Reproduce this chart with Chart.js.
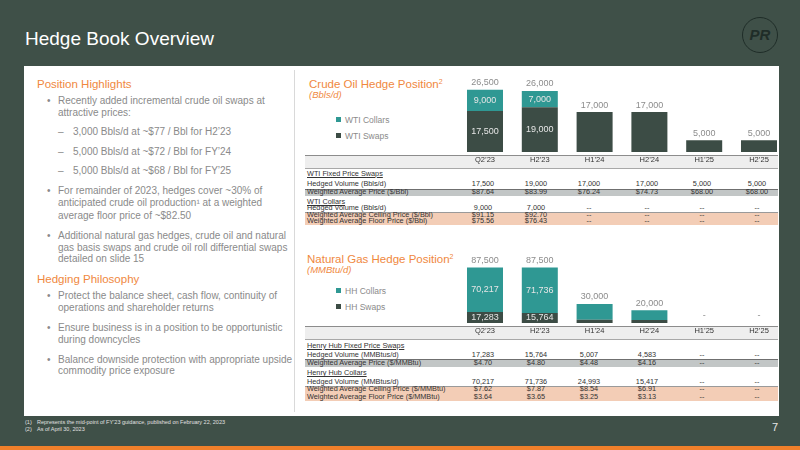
<!DOCTYPE html>
<html>
<head>
<meta charset="utf-8">
<script src="https://cdn.jsdelivr.net/npm/chart.js@4.4.0/dist/chart.umd.min.js"></script>
<style>
  body { margin: 0; width: 800px; height: 450px; background: #3f5048; position: relative; overflow: hidden;
         font-family: "Liberation Sans", Arial, sans-serif; }
  .abs { position: absolute; white-space: nowrap; }
  .title { left: 25px; top: 27px; font-size: 19px; color: #ffffff; line-height: 24px; }
  .logo { left: 742px; top: 17px; width: 34px; height: 34px; border: 1.6px solid #1f2d28; border-radius: 50%;
          color: #1f2d28; font-size: 15px; font-weight: bold; font-style: italic; text-align: center; line-height: 34px; }
  .panel { left: 24px; top: 66px; width: 755px; height: 350px; background: #ffffff; }
  .divider { left: 294px; top: 70px; width: 1px; height: 342px; background: #d9d9d9; }
  .head { font-size: 11.5px; color: #f0883e; line-height: 14px; }
  .body { font-size: 10px; color: #8a8a8a; }
  .body .dot { position: absolute; left: -11px; }
  .sub .dash { position: absolute; left: -15px; }
  .ctitle { font-size: 11.5px; color: #f0883e; line-height: 14px; }
  .ctitle sup { font-size: 7px; vertical-align: 4px; }
  .cunit { font-size: 9.5px; color: #f0883e; font-style: italic; line-height: 12px; }
  .leg { font-size: 8.5px; color: #8a8a8a; line-height: 10px; }
  .leg i { display: inline-block; width: 5px; height: 5px; margin-right: 4px; vertical-align: 1px; }
  .band { left: 305px; width: 473px; }
  .hdr { background: #eeeeee; border-top: 1px solid #8c8c8c; border-bottom: 1px solid #a8a8a8; box-sizing: border-box; }
  .grey { background: #c2c6c6; border-top: 1px solid #6f6f6f; box-sizing: border-box; }
  .peach { background: #f3cdb6; border-top: 1px solid #9a9a9a; box-sizing: border-box; }
  .cell { font-size: 7.3px; color: #333333; line-height: 10px; height: 10px; }
  .cell.u { text-decoration: underline; }
  .cell.v { width: 60px; text-align: center; }
  .foot { font-size: 5.5px; color: #e0e0e0; line-height: 7px; }
  canvas { position: absolute; }
</style>
</head>
<body>
<div class="abs title">Hedge Book Overview</div>
<div class="abs logo">PR</div>
<div class="abs panel"></div>
<div class="abs divider"></div>
<div id="left"></div>
<div id="right"></div>
<canvas id="oilChart" width="490" height="100" style="left:300px;top:70px"></canvas>
<canvas id="gasChart" width="490" height="91" style="left:300px;top:250px"></canvas>
<div class="abs foot" style="left:25px;top:419px">(1)</div>
<div class="abs foot" style="left:37px;top:419px">Represents the mid-point of FY’23 guidance, published on February 22, 2023</div>
<div class="abs foot" style="left:25px;top:426px">(2)</div>
<div class="abs foot" style="left:37px;top:426px">As of April 30, 2023</div>
<div class="abs" style="left:772px;top:421px;font-size:11px;color:#e8e8e8">7</div>
<div class="abs" style="left:0;top:446px;width:800px;height:4px;background:#f07f2a"></div>

<script>
// ---------- DONNÉES ----------
const periods = ["Q2’23", "H2’23", "H1’24", "H2’24", "H1’25", "H2’25"];

// pétrole (Bbls/d)
const wtiSwaps = [17500, 19000, 17000, 17000, 5000, 5000];
const wtiCollars = [9000, 7000, 0, 0, 0, 0];
const wtiSwapPrice = [87.64, 83.99, 76.24, 74.73, 68.00, 68.00];
const wtiCeiling = [91.15, 92.70, null, null, null, null];
const wtiFloor = [75.56, 76.43, null, null, null, null];
const wtiSplitShown = [true, true, false, false, false, false];

// gaz naturel (MMBtu/d)
const hhSwaps = [17283, 15764, 5007, 4583, 0, 0];
const hhCollars = [70217, 71736, 24993, 15417, 0, 0];
const hhSwapPrice = [4.70, 4.80, 4.48, 4.16, null, null];
const hhCeiling = [7.62, 7.87, 8.54, 6.91, null, null];
const hhFloor = [3.64, 3.65, 3.25, 3.13, null, null];
const hhSplitShown = [true, true, false, false, false, false];

const DARK = "#3c4c45";
const TEAL = "#2f9893";
const FONT = "'Liberation Sans', Arial, sans-serif";

const fmtVol = v => v ? v.toLocaleString("en-US") : "--";
const fmtPx = v => v == null ? "--" : "$" + v.toFixed(2);

// ---------- TEXTE COLONNE GAUCHE ----------
const left = document.getElementById("left");
function add(parent, html, cls, x, y, extra) {
    const d = document.createElement("div");
    d.className = "abs " + cls;
    d.style.left = x + "px";
    d.style.top = y + "px";
    if (extra) d.style.cssText += extra;
    d.innerHTML = html;
    parent.appendChild(d);
    return d;
}
function bullet(lines, yc, lh) {
    add(left, '<span class="dot">•</span>' + lines.join("<br>"), "body", 58, yc - lh / 2, "line-height:" + lh + "px");
}
function subBullet(text, yc) {
    add(left, '<span class="dash">–</span>' + text, "body sub", 73, yc - 6, "line-height:12px");
}
add(left, "Position Highlights", "head", 37, 77);
bullet(["Recently added incremental crude oil swaps at", "attractive prices:"], 101, 11.6);
subBullet("3,000 Bbls/d at ~$77 / Bbl for H2’23", 132);
subBullet("5,000 Bbls/d at ~$72 / Bbl for FY’24", 152);
subBullet("5,000 Bbls/d at ~$68 / Bbl for FY’25", 171);
bullet(["For remainder of 2023, hedges cover ~30% of", "anticipated crude oil production¹ at a weighted", "average floor price of ~$82.50"], 191, 12.4);
bullet(["Additional natural gas hedges, crude oil and natural", "gas basis swaps and crude oil roll differential swaps", "detailed on slide 15"], 236, 11.3);
add(left, "Hedging Philosophy", "head", 37, 272);
bullet(["Protect the balance sheet, cash flow, continuity of", "operations and shareholder returns"], 296, 12);
bullet(["Ensure business is in a position to be opportunistic", "during downcycles"], 328, 12);
bullet(["Balance downside protection with appropriate upside", "commodity price exposure"], 359, 11);

// ---------- TITRES, LÉGENDES ET TABLEAUX À DROITE ----------
const right = document.getElementById("right");
const colX = [483, 536, 589, 647, 702, 757];

function band(cls, y0, y1) {
    add(right, "", "band " + cls, 305, y0, "height:" + (y1 - y0) + "px");
}
function row(label, values, yc, under) {
    add(right, label, "cell" + (under ? " u" : ""), 307, yc - 5);
    if (values) values.forEach((v, i) => add(right, v, "cell v", colX[i] - 30, yc - 5));
}

// pétrole
add(right, "Crude Oil Hedge Position<sup>2</sup>", "ctitle", 309, 75);
add(right, "(Bbls/d)", "cunit", 309, 89);
add(right, '<i style="background:' + TEAL + '"></i>WTI Collars', "leg", 336, 115);
add(right, '<i style="background:' + DARK + '"></i>WTI Swaps', "leg", 336, 131);
band("hdr", 155, 169);
row("WTI Fixed Price Swaps", null, 174, true);
row("Hedged Volume (Bbls/d)", wtiSwaps.map(fmtVol), 184);
band("grey", 188.5, 196);
row("Weighted Average Price ($/Bbl)", wtiSwapPrice.map(fmtPx), 192);
row("WTI Collars", null, 201.7, true);
row("Hedged Volume (Bbls/d)", wtiCollars.map(fmtVol), 208.3);
band("peach", 211.5, 224.5);
row("Weighted Average Ceiling Price ($/Bbl)", wtiCeiling.map(fmtPx), 214.7);
row("Weighted Average Floor Price ($/Bbl)", wtiFloor.map(fmtPx), 221.2);

// gaz
add(right, "Natural Gas Hedge Position<sup>2</sup>", "ctitle", 307, 250);
add(right, "(MMBtu/d)", "cunit", 307, 264);
add(right, '<i style="background:' + TEAL + '"></i>HH Collars', "leg", 336, 286);
add(right, '<i style="background:' + DARK + '"></i>HH Swaps', "leg", 336, 302);
band("hdr", 326, 340);
row("Henry Hub Fixed Price Swaps", null, 345.7, true);
row("Hedged Volume (MMBtus/d)", hhSwaps.map(fmtVol), 355);
band("grey", 359, 366.5);
row("Weighted Average Price ($/MMBtu)", hhSwapPrice.map(fmtPx), 362.7);
row("Henry Hub Collars", null, 373.3, true);
row("Hedged Volume (MMBtus/d)", hhCollars.map(fmtVol), 382.3);
band("peach", 385.5, 401);
row("Weighted Average Ceiling Price ($/MMBtu)", hhCeiling.map(fmtPx), 389.3);
row("Weighted Average Floor Price ($/MMBtu)", hhFloor.map(fmtPx), 396.7);

// ---------- ÉTIQUETTES DES BARRES ----------
function barLabels(split) {
    return {
        id: "barLabels",
        afterDatasetsDraw(chart) {
            const ctx = chart.ctx;
            const ds = chart.data.datasets;
            const swaps = chart.getDatasetMeta(0).data;
            const collars = chart.getDatasetMeta(1).data;
            ctx.save();
            ctx.font = "9px " + FONT;
            ctx.textAlign = "center";
            ctx.textBaseline = "middle";
            chart.data.labels.forEach((lab, i) => {
                const s = ds[0].data[i];
                const c = ds[1].data[i];
                const total = s + c;
                const topY = c > 0 ? collars[i].y : swaps[i].y;
                ctx.fillStyle = "#8c8c8c";
                ctx.fillText(total > 0 ? fmtVol(total) : "-", swaps[i].x, topY - 7);
                if (split[i]) {
                    ctx.fillStyle = "#e6e6e6";
                    ctx.fillText(fmtVol(c), collars[i].x, (collars[i].y + collars[i].base) / 2);
                    ctx.fillText(fmtVol(s), swaps[i].x, (swaps[i].y + swaps[i].base) / 2);
                }
            });
            ctx.restore();
        }
    };
}

// ---------- GRAPHIQUES ----------
function hedgeChart(id, swaps, collars, yMax, padTop, split) {
    return new Chart(document.getElementById(id), {
        type: "bar",
        data: {
            labels: periods,
            datasets: [
                { label: "Swaps", data: swaps, backgroundColor: DARK, categoryPercentage: 1, barPercentage: 0.657 },
                { label: "Collars", data: collars, backgroundColor: TEAL, categoryPercentage: 1, barPercentage: 0.657 }
            ]
        },
        options: {
            responsive: false,
            animation: false,
            layout: { padding: { left: 157.6, right: 3.6, top: padTop, bottom: 3 } },
            plugins: { legend: { display: false }, tooltip: { enabled: false } },
            scales: {
                x: {
                    stacked: true,
                    grid: { display: false, drawTicks: false },
                    border: { display: false },
                    ticks: { color: "#333333", padding: 3, maxRotation: 0, autoSkip: false,
                             font: { size: 7.5, family: FONT } }
                },
                y: { stacked: true, display: false, min: 0, max: yMax }
            }
        },
        plugins: [barLabels(split)]
    });
}

hedgeChart("oilChart", wtiSwaps, wtiCollars, 30000, 11.5, wtiSplitShown);
hedgeChart("gasChart", hhSwaps, hhCollars, 100000, 9.7, hhSplitShown);
</script>
</body>
</html>
